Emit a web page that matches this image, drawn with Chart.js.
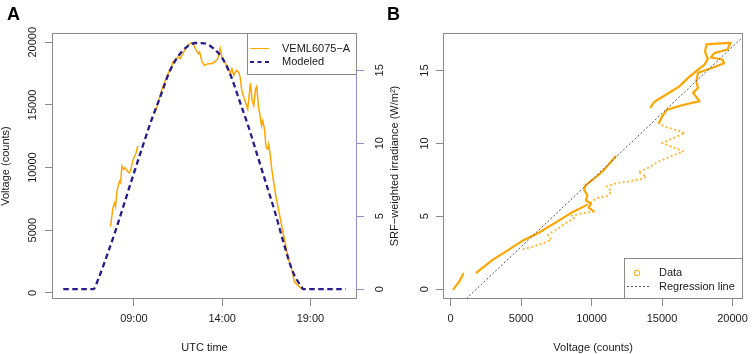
<!DOCTYPE html>
<html>
<head>
<meta charset="utf-8">
<script src="https://cdn.jsdelivr.net/npm/chart.js@4.4.0/dist/chart.umd.min.js"></script>
<style>
  html, body { margin: 0; padding: 0; background: #fff; }
  #wrap { position: relative; width: 754px; height: 354px; overflow: hidden; }
  canvas { position: absolute; left: 0; top: 0; }
  .tag { position: absolute; font: bold 18px "Liberation Sans", Arial, sans-serif; line-height: 1; color: #000; }
</style>
</head>
<body>
<div id="wrap">
  <canvas id="panelA" width="754" height="354"></canvas>
  <canvas id="panelB" width="754" height="354"></canvas>
  <div class="tag" style="left:7px;top:5px">A</div>
  <div class="tag" style="left:387px;top:5px">B</div>
</div>
<script>
// ---------- panel A ----------
var timeTicks = [9, 14, 19];
var timeTickLabels = ["09:00", "14:00", "19:00"];
var countTicks = [0, 5000, 10000, 15000, 20000];
var irrTicks = [0, 5, 10, 15];

// VEML6075-A sensor (UTC hour, counts), null = no data
var vemlHours = [7.68, 7.81, 7.91, 7.96, 8.04, 8.13, 8.19, 8.25, 8.32, 8.42, 8.51, 8.6, 8.72, 8.81, 8.91, 9.0, 9.1, 9.17, 9.23,
    9.7,
    10.13, 10.27, 10.4, 10.51, 10.64, 10.78, 10.89, 11.02, 11.12, 11.21, 11.36, 11.49, 11.63, 11.77, 11.93, 12.06, 12.25, 12.4,
    12.53, 12.64, 12.72, 12.85, 13.0, 13.19, 13.38, 13.57, 13.75, 13.89, 13.98, 14.13, 14.32, 14.46, 14.55, 14.66, 14.8, 14.93,
    15.02, 15.11, 15.23, 15.36, 15.45, 15.55, 15.6, 15.7, 15.79, 15.89, 15.96, 16.06, 16.15, 16.23, 16.3, 16.4, 16.49, 16.58,
    16.64, 16.72, 16.79, 16.91, 17.06, 17.25, 17.44, 17.63, 17.77, 17.9, 18.0, 18.09, 18.28, 18.53];
var vemlCounts = [5300, 6780, 7180, 6910, 8110, 8650, 8920, 8790, 10120, 9860, 9990, 9770, 9590, 9720, 10390, 10790, 11060, 11460, 11730,
    null,
    14270, 14670, 15340, 15880, 16420, 16950, 17350, 17750, 18020, 18420, 18610, 18830, 18690, 19090, 19490, 19760, 19950, 19760,
    19360, 19090, 19230, 18500, 18150, 18290, 18290, 18420, 18690, 19490, 18830, 18420, 18020, 17490, 17890, 17350, 17750, 17620,
    17220, 16140, 15610, 15080, 14670, 16020, 16740, 15340, 14940, 16280, 16470, 14810, 14140, 13330, 13730, 13070, 11600, 11460,
    11860, 11060, 10120, 8920, 7580, 6240, 4900, 3570, 2630, 2090, 1560, 880, 620, 300];

// modeled SRF-weighted irradiance (W/m2)
var modelHours = [5, 5.5, 6, 6.5, 6.7, 7, 7.5, 8, 8.5, 9, 9.5, 10, 10.5, 11, 11.5, 12, 12.5, 13, 13.5, 14, 14.5, 15, 15.5,
    16, 16.5, 17, 17.5, 18, 18.5, 18.6, 19, 19.5, 20, 20.5, 21];
var modelIrr = [0, 0, 0, 0, 0, 0.75, 2.4, 4.15, 6.05, 7.95, 9.8, 11.6, 13.2, 14.85, 15.95, 16.6, 16.87, 16.85, 16.5, 15.85,
    14.6, 12.85, 11.1, 9.15, 7.2, 5.25, 3.1, 1.2, 0.15, 0, 0, 0, 0, 0, 0];

// ---------- panel B ----------
var voltTicks = [0, 5000, 10000, 15000, 20000];

// data runs in time order (counts, irradiance)
var amSparseCounts = [5180, 5700, 6220, 6700, 7150, 6900, 7250, 7700, 8100, 8550, 8800, 8600, 9300, 10150];
var amSparseIrr = [2.75, 2.88, 3.04, 3.2, 3.4, 3.7, 3.95, 4.2, 4.5, 4.75, 4.9, 5.05, 5.2, 5.33];
var amDenseCounts = [10150, 9800, 9950, 9600, 9700, 9480, 9550, 10000, 10450, 10850, 11250, 11700];
var amDenseIrr = [5.33, 5.6, 5.85, 6.1, 6.45, 6.8, 7.1, 7.45, 7.8, 8.15, 8.6, 9.1];
var noonDenseCounts = [14200, 14450, 14780, 15200, 15700, 16200, 16850, 17550, 18000, 18250, 18050, 18150, 18900, 19860, 19630,
    18700, 18470, 19280, 19400, 18590, 17550, 17430, 17550, 17200, 17660, 16620, 15350, 15010, 14780];
var noonDenseIrr = [12.5, 12.85, 13.05, 13.3, 13.6, 13.9, 14.5, 15.07, 15.4, 15.8, 16.3, 16.8, 16.85, 16.9, 16.45,
    16.2, 15.9, 15.76, 15.5, 15.19, 14.85, 14.27, 13.81, 13.47, 12.9, 12.67, 12.32, 11.86, 11.41];
var pmSparseCounts = [14780, 15120, 16620, 15010, 16510, 14780, 14000, 13300, 13900, 13500, 12690, 11770, 11080, 11400, 11150, 10380, 9600];
var pmSparseIrr = [11.41, 11.18, 10.72, 10.03, 9.46, 8.77, 8.32, 8.05, 7.7, 7.55, 7.4, 7.28, 7.05, 6.7, 6.4, 6.25, 5.75];
var eveDenseCounts = [9600, 8530, 7380, 6220, 5060, 3910, 2980, 1830];
var eveDenseIrr = [5.75, 5.22, 4.53, 3.85, 3.3, 2.58, 2.01, 1.14];
var duskDenseCounts = [900, 600, 200];
var duskDenseIrr = [1.05, 0.5, 0.0];

var regIntercept = -1.673;
var regSlope = 0.0009157;

// ---------- styling ----------
Chart.defaults.font.family = '"Liberation Sans", Arial, Helvetica, sans-serif';
Chart.defaults.font.size = 11;
Chart.defaults.color = "#1a1a1a";

var frameColor = "#8a8a8a";
var orange = "#ffa500";
var navy = "#261b8c";
var lavender = "#8f8dcc";
var font11 = { size: 11, lineHeight: 1 };

function pts(xs, ys) {
    return xs.map((x, i) => ({ x: x, y: ys[i] }));
}

function fixedTicks(values) {
    return function (scale) {
        scale.ticks = values.map((v) => ({ value: v }));
    };
}

function sideAxis(pos, min, max, values, pad, width, color, title) {
    var axis = {
        type: "linear",
        position: pos,
        min: min,
        max: max,
        afterBuildTicks: fixedTicks(values),
        afterFit: (s) => { s.width = width; },
        border: { display: false },
        grid: { drawOnChartArea: false, drawTicks: true, tickLength: 7, color: color },
        ticks: { minRotation: 90, maxRotation: 90, crossAlign: "center", padding: pad, callback: (v) => String(v) },
        title: { display: false },
    };
    if (title) {
        axis.title = { display: true, text: title.text, font: font11, padding: { top: title.top, bottom: 0 } };
    }
    return axis;
}

function bottomAxis(min, max, values, labels, title) {
    return {
        type: "linear",
        position: "bottom",
        min: min,
        max: max,
        afterBuildTicks: fixedTicks(values),
        afterFit: (s) => { s.height = 55; },
        border: { display: false },
        grid: { drawOnChartArea: false, drawTicks: true, tickLength: 7, color: frameColor },
        ticks: {
            maxRotation: 0,
            padding: 6,
            callback: function (v) {
                var i = values.indexOf(v);
                return labels ? labels[i] : String(v);
            },
        },
        title: { display: true, text: title, font: font11, padding: { top: 0, bottom: 1 } },
    };
}

function drawFrame(chart) {
    var a = chart.chartArea;
    var ctx = chart.ctx;
    ctx.save();
    ctx.strokeStyle = frameColor;
    ctx.lineWidth = 1;
    ctx.strokeRect(Math.round(a.left) + 0.5, Math.round(a.top) + 0.5, Math.round(a.right - a.left) - 1, Math.round(a.bottom - a.top) - 1);
    ctx.restore();
}

function legendBox(ctx, x, y, w, h) {
    ctx.fillStyle = "#fff";
    ctx.fillRect(x, y, w, h);
    ctx.strokeStyle = frameColor;
    ctx.lineWidth = 1;
    ctx.strokeRect(x + 0.5, y + 0.5, w - 1, h - 1);
}

var framePluginA = {
    id: "frameA",
    afterDraw(chart) {
        drawFrame(chart);
        var ctx = chart.ctx;
        var a = chart.chartArea;
        var y2 = chart.scales.y2;
        // right-hand axis line over the irradiance range
        ctx.save();
        ctx.strokeStyle = lavender;
        ctx.lineWidth = 1;
        ctx.beginPath();
        ctx.moveTo(Math.round(a.right) - 0.5, y2.getPixelForValue(irrTicks[0]));
        ctx.lineTo(Math.round(a.right) - 0.5, y2.getPixelForValue(irrTicks[irrTicks.length - 1]));
        ctx.stroke();
        // legend
        var x0 = Math.round(a.right) - 110, y0 = Math.round(a.top);
        legendBox(ctx, x0, y0, 110, 42);
        ctx.lineWidth = 1;
        ctx.strokeStyle = orange;
        ctx.beginPath();
        ctx.moveTo(x0 + 3, y0 + 15.5);
        ctx.lineTo(x0 + 22, y0 + 15.5);
        ctx.stroke();
        ctx.strokeStyle = navy;
        ctx.lineWidth = 2;
        ctx.setLineDash([4, 3.5]);
        ctx.beginPath();
        ctx.moveTo(x0 + 3, y0 + 29);
        ctx.lineTo(x0 + 23, y0 + 29);
        ctx.stroke();
        ctx.setLineDash([]);
        ctx.fillStyle = "#1a1a1a";
        ctx.font = '11px "Liberation Sans", Arial, sans-serif';
        ctx.textBaseline = "middle";
        ctx.fillText(chart.data.datasets[1].label, x0 + 35, y0 + 15.5);
        ctx.fillText(chart.data.datasets[0].label, x0 + 35, y0 + 29);
        ctx.restore();
    },
};

var framePluginB = {
    id: "frameB",
    afterDraw(chart) {
        drawFrame(chart);
        var ctx = chart.ctx;
        var a = chart.chartArea;
        ctx.save();
        var x0 = Math.round(a.right) - 119, y0 = Math.round(a.bottom) - 41;
        legendBox(ctx, x0, y0, 119, 41);
        ctx.strokeStyle = orange;
        ctx.lineWidth = 1;
        ctx.beginPath();
        ctx.arc(x0 + 13, y0 + 15, 2.8, 0, Math.PI * 2);
        ctx.stroke();
        ctx.strokeStyle = "#555";
        ctx.setLineDash([2, 2]);
        ctx.beginPath();
        ctx.moveTo(x0 + 3, y0 + 28.5);
        ctx.lineTo(x0 + 25, y0 + 28.5);
        ctx.stroke();
        ctx.setLineDash([]);
        ctx.fillStyle = "#1a1a1a";
        ctx.font = '11px "Liberation Sans", Arial, sans-serif';
        ctx.textBaseline = "middle";
        ctx.fillText("Data", x0 + 35, y0 + 15);
        ctx.fillText("Regression line", x0 + 35, y0 + 28.5);
        ctx.restore();
    },
};

// ---------- chart A ----------
var chartA = new Chart("panelA", {
    type: "line",
    data: {
        datasets: [
            {
                label: "Modeled",
                data: pts(modelHours, modelIrr),
                yAxisID: "y2",
                borderColor: navy,
                borderWidth: 2.3,
                borderDash: [5.5, 3.5],
                cubicInterpolationMode: "monotone",
                pointRadius: 0,
                fill: false,
            },
            {
                label: "VEML6075\u2212A",
                data: pts(vemlHours, vemlCounts),
                yAxisID: "y",
                borderColor: orange,
                borderWidth: 1.5,
                tension: 0,
                spanGaps: false,
                pointRadius: 0,
                fill: false,
            },
        ],
    },
    options: {
        responsive: false,
        animation: false,
        devicePixelRatio: 1,
        layout: { padding: { left: 0, top: 33, right: 357, bottom: 0 } },
        plugins: { legend: { display: false }, tooltip: { enabled: false } },
        scales: {
            x: bottomAxis(4.36, 21.64, timeTicks, timeTickLabels, "UTC time"),
            y: sideAxis("left", -486, 20736, countTicks, -3.1, 52, frameColor, { text: "Voltage (counts)", top: 0 }),
            y2: sideAxis("right", -0.675, 17.555, irrTicks, 9.9, 40, lavender, null),
        },
    },
    plugins: [framePluginA],
});

// ---------- chart B ----------
var bMin = -540, bMax = 20760;

function denseRun(xs, ys) {
    return { label: "Data", data: pts(xs, ys), showLine: true, borderColor: orange, borderWidth: 2.2,
        borderCapStyle: "round", borderJoinStyle: "round", pointRadius: 0, tension: 0 };
}
function sparseRun(xs, ys) {
    return { label: "Data", data: pts(xs, ys), showLine: true, borderColor: "rgba(255,165,0,0.8)", borderWidth: 2.2,
        borderDash: [0.01, 4.4], borderCapStyle: "round", pointRadius: 0, tension: 0 };
}

var chartB = new Chart("panelB", {
    type: "scatter",
    data: {
        datasets: [
            {
                label: "Regression line",
                data: [
                    { x: bMin, y: regIntercept + regSlope * bMin },
                    { x: bMax, y: regIntercept + regSlope * bMax },
                ],
                showLine: true,
                borderColor: "#555",
                borderWidth: 1,
                borderDash: [2, 2],
                pointRadius: 0,
            },
            sparseRun(amSparseCounts, amSparseIrr),
            denseRun(amDenseCounts, amDenseIrr),
            denseRun(noonDenseCounts, noonDenseIrr),
            sparseRun(pmSparseCounts, pmSparseIrr),
            denseRun(eveDenseCounts, eveDenseIrr),
            denseRun(duskDenseCounts, duskDenseIrr),
        ],
    },
    options: {
        responsive: false,
        animation: false,
        devicePixelRatio: 1,
        layout: { padding: { left: 388, top: 33, right: 5, bottom: 0 } },
        plugins: { legend: { display: false }, tooltip: { enabled: false } },
        scales: {
            x: bottomAxis(bMin, bMax, voltTicks, null, "Voltage (counts)"),
            y: sideAxis("left", -0.676, 17.58, irrTicks, 4.9, 55, frameColor, { text: "SRF\u2212weighted irradiance (W/m\u00b2)", top: 1.5 }),
        },
    },
    plugins: [framePluginB],
});
</script>
</body>
</html>
